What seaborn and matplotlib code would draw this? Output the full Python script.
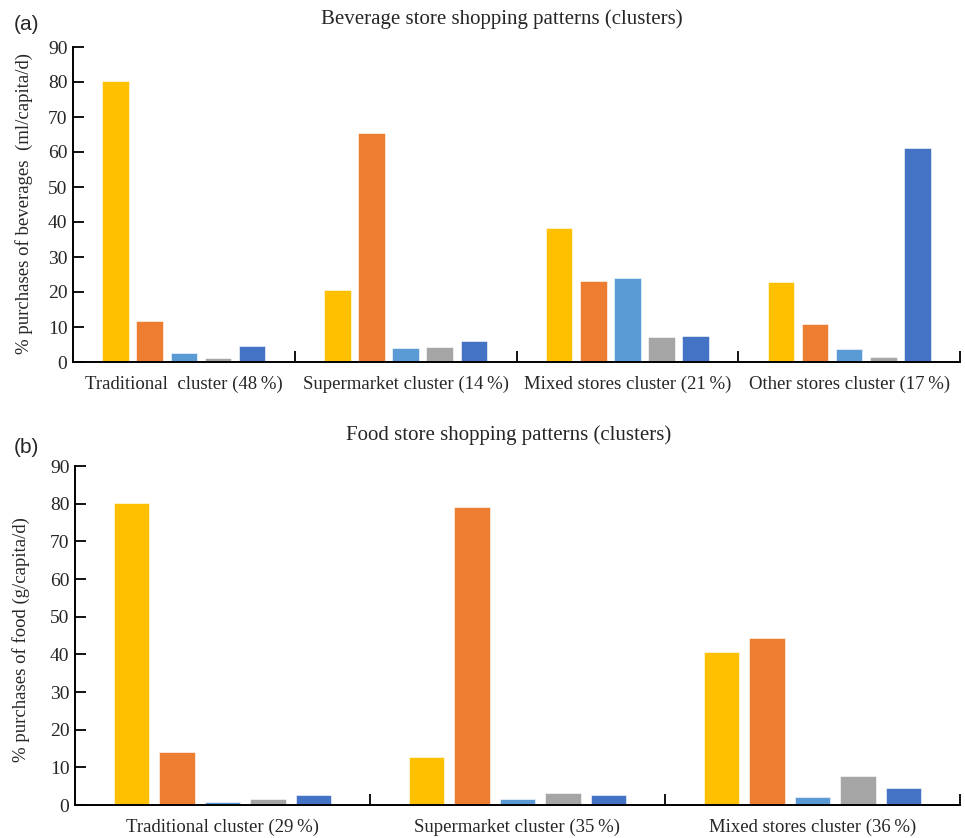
import numpy as np
import pandas as pd
import seaborn as sns
import matplotlib.pyplot as plt

# Store types (hue order) and their colours
store_types = ["Traditional", "Supermarket", "Convenience", "Specialty", "Other"]
store_colors = ["#FFC000", "#ED7D31", "#5B9BD5", "#A5A5A5", "#4472C4"]

# (a) Beverage purchases by cluster
bev_clusters = ["Traditional  cluster (48\u2009%)", "Supermarket cluster (14\u2009%)",
                "Mixed stores cluster (21\u2009%)", "Other stores cluster (17\u2009%)"]
bev_traditional = [80.2, 11.7, 2.6, 1.1, 4.6]
bev_supermarket = [20.5, 65.4, 4.0, 4.3, 6.0]
bev_mixed = [38.3, 23.1, 24.0, 7.1, 7.4]
bev_other = [22.9, 10.9, 3.7, 1.4, 61.1]

# (b) Food purchases by cluster
food_clusters = ["Traditional cluster (29\u2009%)", "Supermarket cluster (35\u2009%)",
                 "Mixed stores cluster (36\u2009%)"]
food_traditional = [80.1, 14.2, 0.9, 1.6, 2.6]
food_supermarket = [12.8, 79.0, 1.6, 3.1, 2.6]
food_mixed = [40.7, 44.3, 2.1, 7.7, 4.4]

ticks = [0, 10, 20, 30, 40, 50, 60, 70, 80, 90]


def long_table(clusters, rows):
    recs = []
    for c, vals in zip(clusters, rows):
        for s, v in zip(store_types, vals):
            recs.append({"cluster": c, "store": s, "value": v})
    return pd.DataFrame(recs)


bev_df = long_table(bev_clusters, [bev_traditional, bev_supermarket, bev_mixed, bev_other])
food_df = long_table(food_clusters, [food_traditional, food_supermarket, food_mixed])

sns.set_theme(style="ticks")
plt.rcParams["font.family"] = ["Liberation Serif", "DejaVu Serif"]

fig = plt.figure(figsize=(9.65, 8.38), dpi=100)
ax_a = fig.add_axes([73 / 965, 1 - 362 / 838, (960 - 73) / 965, (362 - 47) / 838])
ax_b = fig.add_axes([75 / 965, 1 - 805 / 838, (960 - 75) / 965, (805 - 466) / 838])


def draw_panel(ax, df, clusters, ylabel, ylabel_x):
    sns.barplot(data=df, x="cluster", y="value", hue="store", order=clusters,
                hue_order=store_types, palette=store_colors, saturation=1,
                width=0.77, gap=0.22, edgecolor="white", linewidth=0.4,
                legend=False, errorbar=None, ax=ax)
    n = len(clusters)
    ax.set_xlim(-0.5, n - 0.5)
    ax.set_ylim(0, 90)
    ax.set_yticks(ticks)
    ax.set_yticklabels([str(t) for t in ticks], fontsize=14)
    ax.set_xticks(range(n))
    ax.set_xticklabels(clusters, fontsize=13.5)
    ax.set_xticks([i + 0.5 for i in range(n)], minor=True)
    ax.tick_params(axis="x", which="major", length=0, pad=10)
    ax.tick_params(axis="x", which="minor", direction="in", length=8, width=1.3, color="black")
    ax.tick_params(axis="y", direction="in", length=8, width=1.3, color="black", pad=4)
    ax.set_xlabel("")
    ax.set_ylabel(ylabel, fontsize=13.5)
    # place the axis label centre at a fixed figure x position
    ax.yaxis.set_label_coords(ylabel_x, 0.5, transform=fig.transFigure)
    ax.yaxis.label.set_verticalalignment("center")
    for side in ("top", "right"):
        ax.spines[side].set_visible(False)
    for side in ("left", "bottom"):
        ax.spines[side].set_color("black")
        ax.spines[side].set_linewidth(1.4)


draw_panel(ax_a, bev_df, bev_clusters, "% purchases of beverages  (ml/capita/d)", 24 / 965)
draw_panel(ax_b, food_df, food_clusters, "% purchases of food (g/capita/d)", 21 / 965)
ax_a.yaxis.set_label_coords(24 / 965, 1 - 203 / 838, transform=fig.transFigure)
ax_b.yaxis.set_label_coords(21 / 965, 1 - 640 / 838, transform=fig.transFigure)

fig.text(502 / 965, 1 - 19 / 838, "Beverage store shopping patterns (clusters)",
         ha="center", va="center", fontsize=15)
fig.text(509 / 965, 1 - 435 / 838, "Food store shopping patterns (clusters)",
         ha="center", va="center", fontsize=15)
fig.text(14 / 965, 1 - 24 / 838, "(a)", ha="left", va="center", fontsize=15,
         family="Liberation Sans")
fig.text(14 / 965, 1 - 447 / 838, "(b)", ha="left", va="center", fontsize=15,
         family="Liberation Sans")

fig.savefig("out.png", dpi=100, facecolor="white")
